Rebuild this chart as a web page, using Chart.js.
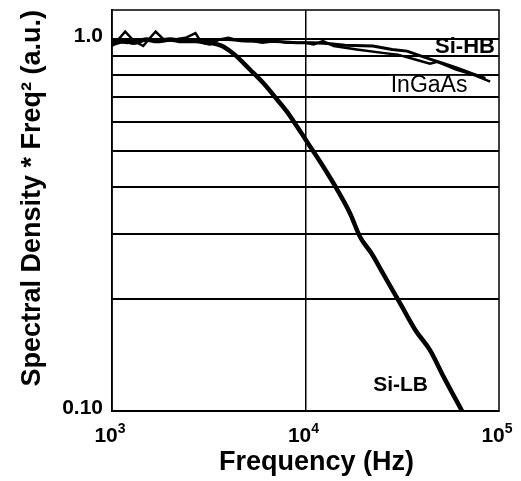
<!DOCTYPE html>
<html>
<head>
<meta charset="utf-8">
<script src="https://cdn.jsdelivr.net/npm/chart.js@4.4.1/dist/chart.umd.min.js"></script>
<style>
  html, body { margin: 0; padding: 0; background: #fff; }
  #wrap { width: 521px; height: 481px; }
</style>
</head>
<body>
<div id="wrap"><canvas id="chart" width="521" height="481"></canvas></div>
<script>
const FONT = "'Liberation Sans', Arial, Helvetica, sans-serif";

// data
const siLbFreq = [1000, 1150, 1300, 1500, 1700, 2000, 2300, 2700, 3100, 3500, 3750, 4300, 5160, 6100, 7130, 8000, 9040, 10800, 12500, 14550, 17000, 19150, 22000, 25100, 30800, 37000, 43900, 52000, 64400];
const siLbVals = [0.97, 0.99, 0.98, 1.0, 0.99, 1.0, 0.99, 0.99, 0.98, 0.97, 0.957, 0.91, 0.83, 0.76, 0.689, 0.64, 0.583, 0.506, 0.45, 0.395, 0.34, 0.294, 0.265, 0.235, 0.195, 0.165, 0.146, 0.123, 0.1];

const inGaAsFreq = [1000, 1080, 1170, 1300, 1450, 1600, 1680, 1850, 2100, 2400, 2700, 2900, 3200, 3600, 4000, 4600, 5300, 6000, 7000, 8000, 9000, 10000, 11000, 12300, 14000, 18400, 25000, 30000, 37700, 44000, 48000, 60000, 75000, 90000];
const inGaAsVals = [0.96, 1.0, 1.05, 0.99, 0.96, 1.02, 1.05, 1.0, 1.0, 1.01, 1.04, 0.98, 0.97, 1.0, 1.01, 0.99, 0.99, 0.98, 0.99, 0.98, 0.98, 0.98, 0.97, 0.99, 0.96, 0.94, 0.92, 0.91, 0.88, 0.86, 0.87, 0.83, 0.80, 0.77];

const siHbFreq = [1000, 1200, 1500, 1800, 2200, 2700, 3300, 4000, 5000, 6000, 7500, 9000, 11000, 13000, 16000, 22300, 28000, 33500, 40000, 45600, 52000, 60000, 72000, 85000];
const siHbVals = [0.99, 0.98, 1.0, 0.99, 1.0, 0.99, 1.0, 1.0, 0.99, 0.99, 0.985, 0.98, 0.98, 0.975, 0.965, 0.96, 0.94, 0.93, 0.90, 0.88, 0.86, 0.84, 0.81, 0.785];

const xTicks = [1000, 10000, 100000];
const yGrid = [0.1, 0.2, 0.3, 0.4, 0.5, 0.6, 0.7, 0.8, 0.9, 1.0];

// curve labels: [text, freq, value, font, white box]
const curveLabels = [
    ['Si-HB', 66700, 0.957, 'bold 22px ' + FONT, false],
    ['InGaAs', 43500, 0.75, '23px ' + FONT, true],
    ['Si-LB', 31000, 0.117, 'bold 21px ' + FONT, false]
];

function toPoints(xs, ys) {
    return xs.map((x, i) => ({ x: x, y: ys[i] }));
}

const decorPlugin = {
    id: 'decor',
    beforeDatasetsDraw(chart) {
        const ctx = chart.ctx;
        const xs = chart.scales.x, ys = chart.scales.y;
        // curve labels sit under the lines
        curveLabels.forEach(([txt, fx, fy, font, box]) => {
            const px = xs.getPixelForValue(fx);
            const py = ys.getPixelForValue(fy);
            ctx.save();
            ctx.font = font;
            const w = ctx.measureText(txt).width;
            if (box) {
                ctx.fillStyle = '#fff';
                ctx.fillRect(px - w / 2 - 1, py - 10, w + 2, 20);
            }
            ctx.fillStyle = '#000';
            ctx.textAlign = 'center';
            ctx.textBaseline = 'middle';
            ctx.fillText(txt, px, py);
            ctx.restore();
        });
    },
    afterDraw(chart) {
        const ctx = chart.ctx;
        const a = chart.chartArea;
        const xs = chart.scales.x;
        ctx.save();
        ctx.strokeStyle = '#000';
        ctx.lineWidth = 1.5;
        ctx.strokeRect(a.left, a.top, a.right - a.left, a.bottom - a.top);

        // x tick labels 10^n
        xTicks.forEach(v => {
            const px = xs.getPixelForValue(v);
            const exp = String(Math.round(Math.log10(v)));
            ctx.font = 'bold 21px ' + FONT;
            const wb = ctx.measureText('10').width;
            ctx.font = 'bold 14px ' + FONT;
            const we = ctx.measureText(exp).width;
            const x0 = px - (wb + we) / 2 - 2;
            ctx.fillStyle = '#000';
            ctx.textAlign = 'left';
            ctx.textBaseline = 'alphabetic';
            ctx.font = 'bold 21px ' + FONT;
            ctx.fillText('10', x0, a.bottom + 31);
            ctx.font = 'bold 14px ' + FONT;
            ctx.fillText(exp, x0 + wb, a.bottom + 22);
        });

        // x axis title
        ctx.font = 'bold 27px ' + FONT;
        ctx.textAlign = 'center';
        ctx.fillText('Frequency (Hz)', (a.left + a.right) / 2 + 11, a.bottom + 59);
        ctx.restore();
    }
};

new Chart(document.getElementById('chart'), {
    type: 'line',
    data: {
        datasets: [
            {
                label: 'Si-HB',
                data: toPoints(siHbFreq, siHbVals),
                borderColor: '#000',
                borderWidth: 3,
                pointRadius: 0,
                tension: 0
            },
            {
                label: 'InGaAs',
                data: toPoints(inGaAsFreq, inGaAsVals),
                borderColor: '#000',
                borderWidth: 2.5,
                pointRadius: 0,
                tension: 0
            },
            {
                label: 'Si-LB',
                data: toPoints(siLbFreq, siLbVals),
                borderColor: '#000',
                borderWidth: 4.5,
                pointRadius: 0,
                cubicInterpolationMode: 'monotone'
            }
        ]
    },
    options: {
        responsive: false,
        animation: false,
        devicePixelRatio: 1,
        layout: { padding: { top: 10, right: 22, left: 0, bottom: 0 } },
        plugins: {
            legend: { display: false },
            tooltip: { enabled: false }
        },
        scales: {
            x: {
                type: 'logarithmic',
                min: 1000,
                max: 100000,
                afterBuildTicks: s => { s.ticks = xTicks.map(v => ({ value: v })); },
                afterFit: s => { s.height = 70; s.paddingLeft = 0; s.paddingRight = 0; },
                ticks: { display: false },
                grid: {
                    drawTicks: false,
                    color: c => (c.tick && c.tick.value === 10000) ? '#000' : 'rgba(0,0,0,0)',
                    lineWidth: 1.5
                },
                border: { display: true, color: '#000', width: 1.5 }
            },
            y: {
                type: 'logarithmic',
                min: 0.1,
                max: 1.2,
                afterBuildTicks: s => { s.ticks = yGrid.map(v => ({ value: v })); },
                afterFit: s => { s.width = 112; s.paddingTop = 0; s.paddingBottom = 0; },
                ticks: {
                    autoSkip: false,
                    padding: 9,
                    labelOffset: -3,
                    color: '#000',
                    font: { family: FONT, size: 21, weight: 'bold' },
                    callback: v => {
                        if (Math.abs(v - 0.1) < 1e-9) return '0.10';
                        if (Math.abs(v - 1) < 1e-9) return '1.0';
                        return '';
                    }
                },
                grid: {
                    drawTicks: false,
                    color: '#000',
                    lineWidth: 2
                },
                border: { display: true, color: '#000', width: 1.5 },
                title: {
                    display: true,
                    text: 'Spectral Density * Freq² (a.u.)',
                    align: 'end',
                    color: '#000',
                    font: { family: FONT, size: 27, weight: 'bold' },
                    padding: { top: 16, bottom: 0 }
                }
            }
        }
    },
    plugins: [decorPlugin]
});
</script>
</body>
</html>
